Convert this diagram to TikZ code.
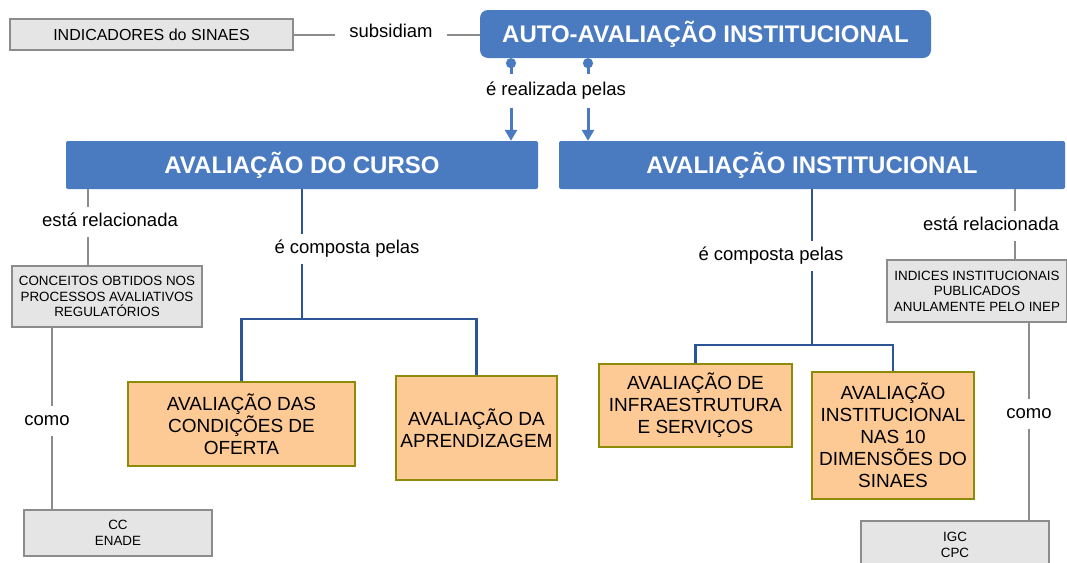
\documentclass[tikz,border=0pt]{standalone}
\usepackage{fontspec}
\setmainfont{Liberation Sans}
\usetikzlibrary{arrows.meta}
\definecolor{mapblue}{HTML}{4A7BC1}
\definecolor{linkblue}{HTML}{2B5595}
\definecolor{boxgray}{HTML}{E5E5E5}
\definecolor{edgegray}{HTML}{8C8C8C}
\definecolor{boxorange}{HTML}{FDCA96}
\definecolor{edgeolive}{HTML}{8C8C0A}

\begin{document}
\begin{tikzpicture}[x=1pt, y=-1pt,
  headbox/.style={fill=mapblue, text=white, font=\fontsize{24}{28}\selectfont\bfseries, minimum height=48pt, inner sep=0pt},
  graybox/.style={draw=edgegray, fill=boxgray, line width=2pt, align=center, inner sep=0pt, font=\fontsize{13.4}{15.5}\selectfont},
  subbox/.style={draw=edgeolive, fill=boxorange, line width=2.5pt, align=center, inner sep=0pt, font=\fontsize{19}{22}\selectfont},
  linktext/.style={font=\fontsize{18.5}{22}\selectfont, text height=13pt, text depth=4pt, inner sep=6pt},
  grayline/.style={draw=edgegray, line width=2pt},
  compline/.style={draw=linkblue, line width=2.5pt},
  autoline/.style={draw=mapblue, line width=3pt}]

\useasboundingbox (0,0) rectangle (1067,562);

% main concepts
\node[headbox, rounded corners=8pt, minimum width=451pt] (auto)  at (705.5,34) {AUTO-AVALIAÇÃO INSTITUCIONAL};
\node[headbox, rounded corners=2pt, minimum width=472pt] (curso) at (302,165)  {AVALIAÇÃO DO CURSO};
\node[headbox, rounded corners=2pt, minimum width=506pt] (inst)  at (812,165)  {AVALIAÇÃO INSTITUCIONAL};

% indicators
\node[graybox, minimum width=283pt, minimum height=31pt, font=\fontsize{16}{18}\selectfont] (sinaes) at (151.5,34.5) {INDICADORES do SINAES};
\node[linktext, inner xsep=14pt] (subs) at (391,33) {subsidiam};
\draw[grayline] (sinaes.east) -- (subs.west |- sinaes.east);
\draw[grayline] (subs.east |- sinaes.east) -- (auto.west |- sinaes.east);

% is carried out by
\node[linktext, inner ysep=8pt] (realiza) at (556,91) {é realizada pelas};
\foreach \xx/\tgt in {511/curso, 588/inst} {
  \draw[autoline, {Circle[length=10pt]}-] (auto.south -| \xx,0) -- (realiza.north -| \xx,0);
  \draw[autoline, -{Triangle[width=12pt,length=11pt]}] (realiza.south -| \xx,0) -- (\tgt.north -| \xx,0);
}

% course side
\node[linktext] (rel1) at (110,222) {está relacionada};
\node[graybox, minimum width=190pt, minimum height=61pt] (conc) at (107,296.5) {CONCEITOS OBTIDOS NOS\\PROCESSOS AVALIATIVOS\\REGULATÓRIOS};
\node[linktext] (como1) at (47,421) {como};
\node[graybox, minimum width=188pt, minimum height=46pt] (ccenade) at (118,533) {CC\\ENADE};
\draw[grayline] (curso.south -| 88,0) -- (rel1.north -| 88,0);
\draw[grayline] (rel1.south -| 88,0) -- (conc.north -| 88,0);
\draw[grayline] (conc.south -| 52,0) -- (como1.north -| 52,0);
\draw[grayline] (como1.south -| 52,0) -- (ccenade.north -| 52,0);

\node[linktext] (comp1) at (347,249) {é composta pelas};
\node[subbox, minimum width=227pt, minimum height=84pt]  (oferta) at (241.5,424) {AVALIAÇÃO DAS\\CONDIÇÕES DE\\OFERTA};
\node[subbox, minimum width=161pt, minimum height=104pt] (aprend) at (476.5,428) {AVALIAÇÃO DA\\APRENDIZAGEM};
\coordinate (jcurso) at (302,319);
\draw[compline] (curso.south -| jcurso) -- (comp1.north -| jcurso);
\draw[compline] (comp1.south -| jcurso) -- (jcurso);
\draw[compline] (oferta.north) |- (jcurso) -| (aprend.north);

% institution side
\node[linktext] (comp2) at (771,256) {é composta pelas};
\node[subbox, minimum width=193pt, minimum height=83pt]  (infra)  at (695.5,405.5) {AVALIAÇÃO DE\\INFRAESTRUTURA\\E SERVIÇOS};
\node[subbox, minimum width=162pt, minimum height=127pt] (dimens) at (893,435.5)  {AVALIAÇÃO\\INSTITUCIONAL\\NAS 10\\DIMENSÕES DO\\SINAES};
\coordinate (jinst) at (812,345);
\draw[compline] (inst.south -| jinst) -- (comp2.north -| jinst);
\draw[compline] (comp2.south -| jinst) -- (jinst);
\draw[compline] (infra.north) |- (jinst) -| (dimens.north);

\node[linktext] (rel2) at (991,226) {está relacionada};
\node[graybox, minimum width=180pt, minimum height=62pt] (indices) at (977,291) {INDICES INSTITUCIONAIS\\PUBLICADOS\\ANULAMENTE PELO INEP};
\node[linktext] (como2) at (1029,414) {como};
\node[graybox, minimum width=188pt, minimum height=48pt] (igc) at (955,545) {IGC\\CPC};
\draw[grayline] (inst.south -| 1015,0) -- (rel2.north -| 1015,0);
\draw[grayline] (rel2.south -| 1015,0) -- (indices.north -| 1015,0);
\draw[grayline] (indices.south -| 1029,0) -- (como2.north -| 1029,0);
\draw[grayline] (como2.south -| 1029,0) -- (igc.north -| 1029,0);

\end{tikzpicture}
\end{document}
